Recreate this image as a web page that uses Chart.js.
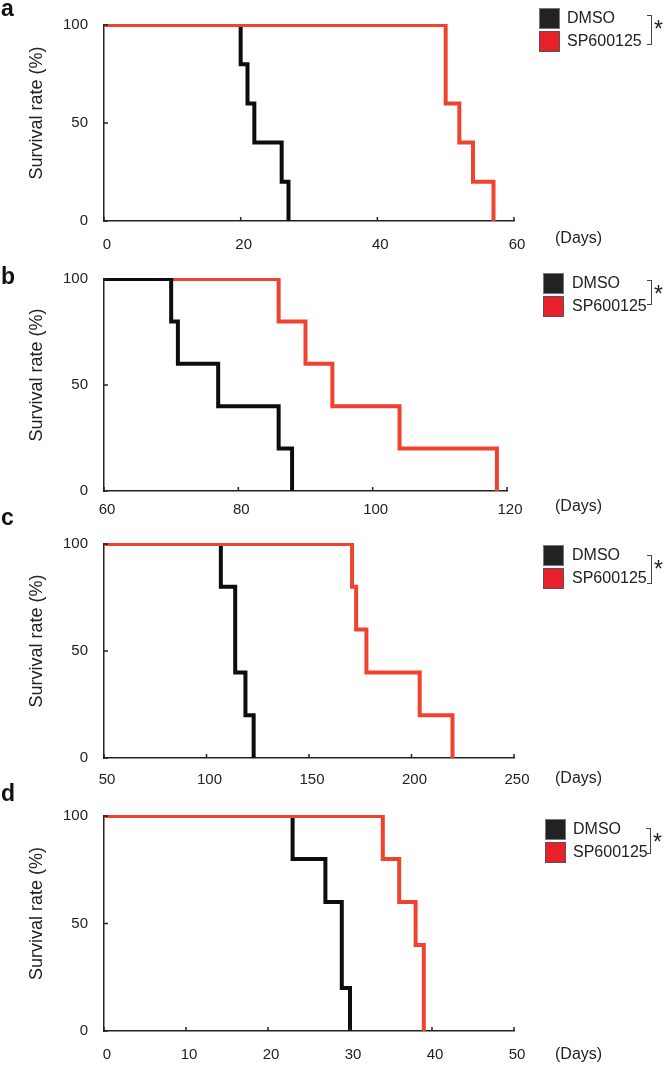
<!DOCTYPE html>
<html>
<head>
<meta charset="utf-8">
<script src="https://cdn.jsdelivr.net/npm/chart.js@4.4.0/dist/chart.umd.min.js"></script>
<style>
  html, body { margin: 0; padding: 0; background: #fff; }
  body { width: 664px; height: 1065px; position: relative; overflow: hidden;
         font-family: "Liberation Sans", Arial, Helvetica, sans-serif; color: #222; }
  canvas { position: absolute; left: 0; top: 0; }
  .lbl { position: absolute; white-space: nowrap; }
  .letter { font-weight: bold; font-size: 23px; color: #111; }
  .days { font-size: 16px; }
  .box { position: absolute; width: 20px; height: 20px; box-sizing: border-box; }
  .box.k { background: #222; border: 1px solid #777; }
  .box.r { background: #e8202a; border: 1px solid #555; }
  .ltxt { font-size: 16px; }
  .brk { position: absolute; width: 4px; border: 1px solid #444; border-left: none; }
  .ast { font-size: 23px; }
</style>
</head>
<body>
<canvas id="ca" width="664" height="1065"></canvas>
<canvas id="cb" width="664" height="1065"></canvas>
<canvas id="cc" width="664" height="1065"></canvas>
<canvas id="cd" width="664" height="1065"></canvas>
<div id="overlay"></div>
<script>
// ---------------- DATA ----------------
const seriesNames = ["DMSO", "SP600125"];
const yTicks = [0, 50, 100];

// Panel a
const aDmsoDays = [0, 20, 21, 22, 26, 27];
const aDmsoSurv = [100, 80, 60, 40, 20, 0];
const aSpDays   = [0, 50, 52, 54, 57];
const aSpSurv   = [100, 60, 40, 20, 0];
const aXTicks   = [0, 20, 40, 60];

// Panel b
const bDmsoDays = [60, 70, 71, 77, 86, 88];
const bDmsoSurv = [100, 80, 60, 40, 20, 0];
const bSpDays   = [60, 86, 90, 94, 104, 118.5];
const bSpSurv   = [100, 80, 60, 40, 20, 0];
const bXTicks   = [60, 80, 100, 120];

// Panel c
const cDmsoDays = [50, 107, 114, 119, 123];
const cDmsoSurv = [100, 80, 40, 20, 0];
const cSpDays   = [50, 171, 173, 178, 204, 220];
const cSpSurv   = [100, 80, 60, 40, 20, 0];
const cXTicks   = [50, 100, 150, 200, 250];

// Panel d
const dDmsoDays = [0, 23, 27, 29, 30];
const dDmsoSurv = [100, 80, 60, 20, 0];
const dSpDays   = [0, 34, 36, 38, 39];
const dSpSurv   = [100, 80, 60, 40, 0];
const dXTicks   = [0, 10, 20, 30, 40, 50];

// ---------------- LAYOUT (styling only) ----------------
const W = 664, H = 1065;
const FONT = '"Liberation Sans", Arial, Helvetica, sans-serif';
const BLACK = '#0d0d0d', RED = '#ef4330';

const panels = [
  { id: 'ca', letter: 'a', dmso: [aDmsoDays, aDmsoSurv], sp: [aSpDays, aSpSurv], xt: aXTicks,
    L: 104, R: 514, T: 9, B: 221, lp: 15, redTop: true, letterY: -5,
    days: [555, 229], leg: { x: 539, y: 8, tx: 567, bx: 647, by: 15, bh: 28 } },
  { id: 'cb', letter: 'b', dmso: [bDmsoDays, bDmsoSurv], sp: [bSpDays, bSpSurv], xt: bXTicks,
    L: 104, R: 507, T: 279, B: 491, lp: 10, redTop: false, letterY: 263,
    days: [555, 497], leg: { x: 543, y: 273, tx: 572, bx: 647, by: 280, bh: 23 } },
  { id: 'cc', letter: 'c', dmso: [cDmsoDays, cDmsoSurv], sp: [cSpDays, cSpSurv], xt: cXTicks,
    L: 104, R: 514, T: 544, B: 758, lp: 13, redTop: true, letterY: 504,
    days: [555, 769], leg: { x: 543, y: 545, tx: 572, bx: 647, by: 555, bh: 27 } },
  { id: 'cd', letter: 'd', dmso: [dDmsoDays, dDmsoSurv], sp: [dSpDays, dSpSurv], xt: dXTicks,
    L: 104, R: 514, T: 816, B: 1031, lp: 15, redTop: true, letterY: 780,
    days: [555, 1045], leg: { x: 545, y: 819, tx: 573, bx: 646, by: 828, bh: 24 } }
];

const innerTicks = {
  id: 'innerTicks',
  afterDatasetsDraw(chart) {
    const { ctx, scales: { x, y } } = chart;
    ctx.save();
    ctx.strokeStyle = '#222';
    ctx.lineWidth = 1.5;
    x.ticks.forEach(t => {
      const px = x.getPixelForValue(t.value);
      ctx.beginPath(); ctx.moveTo(px, y.bottom); ctx.lineTo(px, y.bottom - 4); ctx.stroke();
    });
    y.ticks.forEach(t => {
      const py = y.getPixelForValue(t.value);
      ctx.beginPath(); ctx.moveTo(x.left, py); ctx.lineTo(x.left + 4, py); ctx.stroke();
    });
    ctx.restore();
  }
};

function toPts(days, surv) { return days.map((d, i) => ({ x: d, y: surv[i] })); }

const overlay = document.getElementById('overlay');
function addEl(cls, text, style) {
  const el = document.createElement('div');
  el.className = cls;
  if (text !== null) el.textContent = text;
  Object.assign(el.style, style);
  overlay.appendChild(el);
  return el;
}

panels.forEach(p => {
  const common = {
    borderWidth: 4, stepped: 'before', pointRadius: 0,
    fill: false, borderJoinStyle: 'miter', borderCapStyle: 'butt',
    clip: { left: 0, top: 1, right: 3, bottom: 0 }
  };
  const dsDmso = Object.assign({ label: seriesNames[0], data: toPts(p.dmso[0], p.dmso[1]), borderColor: BLACK }, common);
  const dsSp = Object.assign({ label: seriesNames[1], data: toPts(p.sp[0], p.sp[1]), borderColor: RED }, common);
  // first dataset in the array is drawn on top
  const datasets = p.redTop ? [dsSp, dsDmso] : [dsDmso, dsSp];
  const xMin = p.xt[0], xMax = p.xt[p.xt.length - 1];
  const xStep = p.xt[1] - p.xt[0];

  new Chart(document.getElementById(p.id), {
    type: 'line',
    data: { datasets },
    options: {
      responsive: false, animation: false, events: [],
      layout: { padding: { left: 0, top: p.T, right: W - p.R, bottom: H - p.B - 30 } },
      plugins: { legend: { display: false }, tooltip: { enabled: false } },
      scales: {
        x: {
          type: 'linear', min: xMin, max: xMax,
          afterBuildTicks: s => { s.ticks = p.xt.map(v => ({ value: v })); },
          afterFit: s => { s.height = 30; },
          grid: { display: false, drawTicks: false },
          border: { display: true, color: '#222', width: 1.5 },
          ticks: { stepSize: xStep, padding: p.lp, labelOffset: 3, color: '#222',
                   font: { family: FONT, size: 15 }, maxRotation: 0, autoSkip: false }
        },
        y: {
          min: 0, max: 100,
          afterBuildTicks: s => { s.ticks = yTicks.map(v => ({ value: v })); },
          afterFit: s => { s.width = p.L; },
          grid: { display: false, drawTicks: false },
          border: { display: true, color: '#222', width: 1.5 },
          ticks: { padding: 16, color: '#222', font: { family: FONT, size: 15 } },
          title: { display: true, text: '    Survival rate (%)', color: '#222',
                   font: { family: FONT, size: 18 }, padding: { top: 26, bottom: 0 } }
        }
      }
    },
    plugins: [innerTicks]
  });

  addEl('lbl letter', p.letter, { left: '1px', top: p.letterY + 'px' });
  addEl('lbl days', '(Days)', { left: p.days[0] + 'px', top: p.days[1] + 'px' });
  const lg = p.leg;
  addEl('box k', null, { left: lg.x + 'px', top: lg.y + 'px', width: '21px', height: '21px' });
  addEl('box r', null, { left: lg.x + 'px', top: (lg.y + 23) + 'px', width: '21px', height: '21px' });
  addEl('lbl ltxt', seriesNames[0], { left: lg.tx + 'px', top: (lg.y + 1) + 'px' });
  addEl('lbl ltxt', seriesNames[1], { left: lg.tx + 'px', top: (lg.y + 24) + 'px' });
  addEl('brk', null, { left: lg.bx + 'px', top: lg.by + 'px', height: lg.bh + 'px' });
  addEl('lbl ast', '*', { left: (lg.bx + 7) + 'px', top: (lg.by + 1) + 'px' });
});
</script>
</body>
</html>
